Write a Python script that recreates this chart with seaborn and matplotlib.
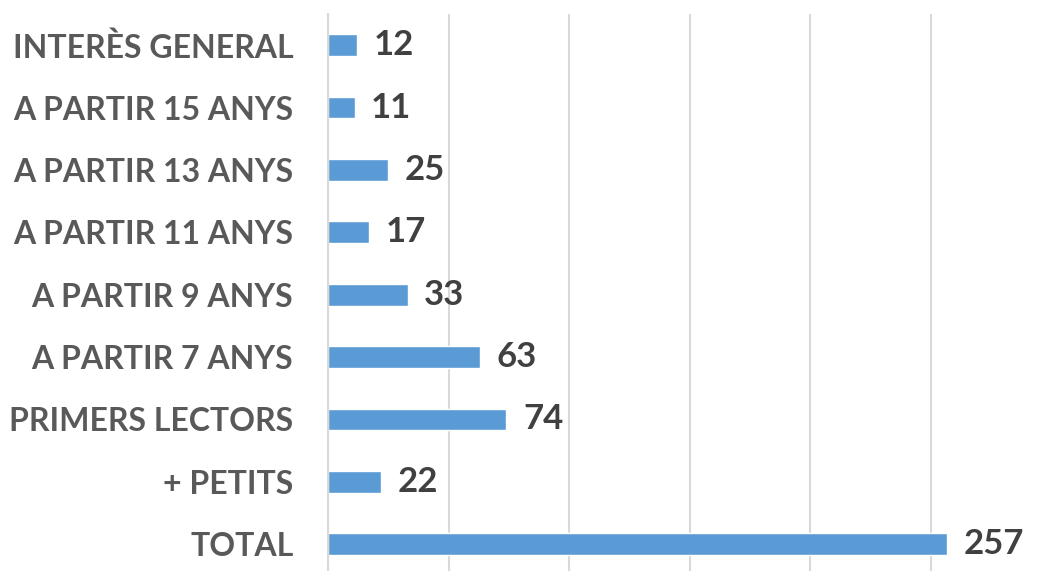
import matplotlib
matplotlib.use("Agg")
import matplotlib.pyplot as plt
import seaborn as sns
import pandas as pd

categories = ["INTERÈS GENERAL", "A PARTIR 15 ANYS", "A PARTIR 13 ANYS", "A PARTIR 11 ANYS",
              "A PARTIR 9 ANYS", "A PARTIR 7 ANYS", "PRIMERS LECTORS", "+ PETITS", "TOTAL"]
values = [12, 11, 25, 17, 33, 63, 74, 22, 257]

df = pd.DataFrame({"categoria": categories, "llibres": values})

sns.set_style("white")
plt.rcParams['font.family'] = ['Lato', 'DejaVu Sans']

fig = plt.figure(figsize=(10.38, 5.71), dpi=100)
ax = fig.add_axes([0.316, 0.0, 0.684, 0.9755])

sns.barplot(data=df, x="llibres", y="categoria", orient="h", color="#5B9BD5",
            saturation=1, width=0.35, ax=ax)

ax.set_xlim(0, 294.6)
ax.set_ylim(8.43, -0.5)
ax.set_xticks([0, 50, 100, 150, 200, 250])
ax.xaxis.grid(True, color="#d9d9d9", linewidth=1.5)
ax.set_axisbelow(True)
ax.tick_params(axis="x", bottom=False, labelbottom=False)
ax.tick_params(axis="y", left=False, pad=21.5, labelsize=23, labelcolor="#595959")
for lbl in ax.get_yticklabels():
    lbl.set_fontweight("bold")
ax.set_xlabel("")
ax.set_ylabel("")
for s in ["top", "right", "bottom"]:
    ax.spines[s].set_visible(False)
ax.spines["left"].set_color("#d9d9d9")
ax.spines["left"].set_linewidth(1.5)

ax.bar_label(ax.containers[0], padding=12, fontsize=25, fontweight="bold", color="#404040")

fig.savefig("out.png", dpi=100)
